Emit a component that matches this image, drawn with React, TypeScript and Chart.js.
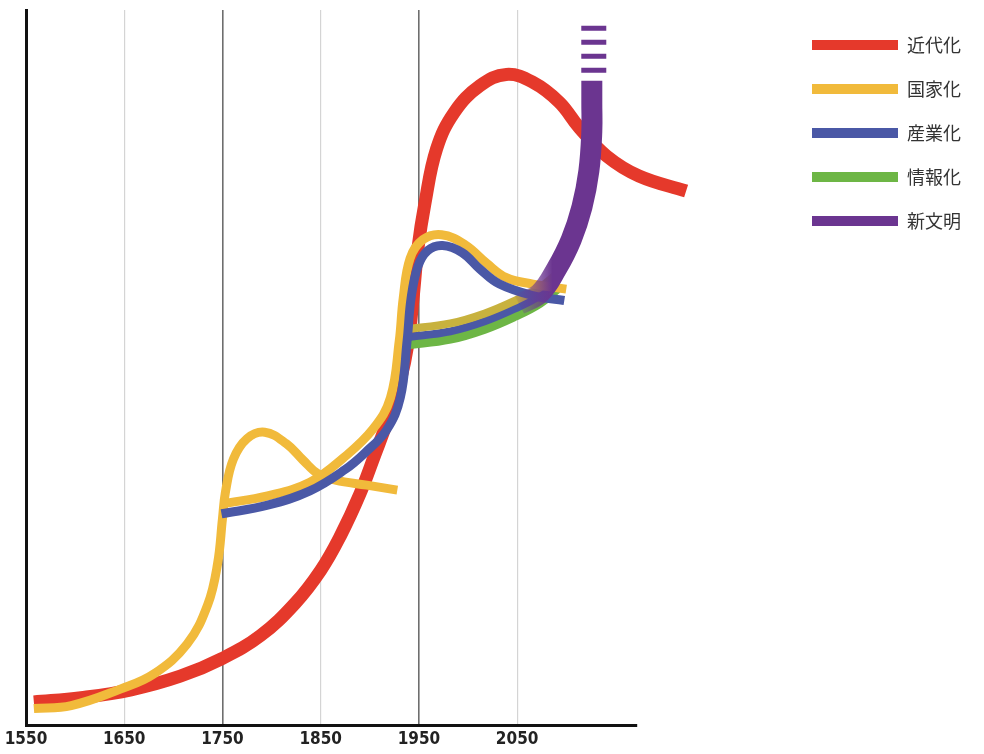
import { useEffect, useRef } from "react";
import { Chart, registerables } from "chart.js";

Chart.register(...registerables);

// ---------------- data ----------------
const seriesLabels = ["近代化", "国家化", "産業化", "情報化", "新文明"];
const xTickYears = [1550, 1650, 1750, 1850, 1950, 2050];
const xAxisStart = 1550;
const xAxisEnd = 2172;

// 近代化 (red)
const modernization: number[][] = [
  [1558, 3.3], [1606, 3.9], [1657, 5.0], [1707, 6.9], [1750, 9.4], [1789, 12.6],
  [1824, 17.1], [1850, 21.7], [1870, 26.5], [1890, 32.4], [1905, 37.8], [1918, 42.6],
  [1931, 48.2], [1939, 53.5], [1944, 59.7], [1949, 66.7], [1956, 72.9], [1968, 80.6],
  [1986, 85.7], [2012, 89.4], [2039, 91.0], [2066, 89.9], [2093, 87.1], [2113, 83.6],
  [2141, 79.6], [2174, 76.8], [2222, 74.7],
];

// 国家化 (yellow) – first wave with its bump
const nationBuildingA: number[][] = [
  [1558, 2.4], [1596, 2.8], [1646, 5.1], [1680, 7.2], [1714, 11.4], [1735, 16.9],
  [1745, 22.6], [1750, 28.9], [1753, 32.6], [1761, 37.2], [1775, 40.1], [1793, 41.0],
  [1815, 39.4], [1832, 37.1], [1848, 35.1], [1865, 34.3], [1897, 33.6], [1928, 32.9],
];
// 国家化 – second wave
const nationBuildingB: number[][] = [
  [1750, 31.0], [1796, 32.1], [1839, 34.0], [1873, 37.4], [1903, 41.4], [1921, 45.8],
  [1930, 53.8], [1934, 59.7], [1941, 65.3], [1954, 67.9], [1973, 68.6], [1997, 67.2],
  [2019, 64.6], [2039, 62.6], [2066, 61.7], [2100, 61.0],
];
// 国家化 – branch after 1950
const nationBuildingC: number[][] = [
  [1938, 55.4], [1982, 56.2], [2017, 57.6], [2048, 59.4], [2073, 61.2], [2091, 63.2],
];

// 産業化 (blue)
const industrializationA: number[][] = [
  [1749, 29.6], [1796, 30.8], [1839, 32.8], [1875, 35.8], [1895, 38.1], [1917, 41.3],
  [1931, 45.8], [1938, 53.8], [1942, 59.7], [1949, 64.2], [1959, 66.4], [1974, 67.1],
  [1994, 66.1], [2012, 63.8], [2032, 61.7], [2066, 60.1], [2098, 59.4],
];
const industrializationB: number[][] = [
  [1938, 54.3], [1982, 55.1], [2017, 56.5], [2048, 58.3], [2073, 60.1], [2091, 62.1],
];

// 情報化 (green)
const informatization: number[][] = [
  [1938, 53.2], [1982, 54.0], [2017, 55.4], [2048, 57.2], [2073, 59.0], [2091, 61.0],
];

// 新文明 (purple)
const newCivilization: number[][] = [
  [2052, 58.9], [2073, 60.4], [2090, 63.8], [2105, 67.9], [2116, 72.5], [2123, 77.5],
  [2126, 83.0], [2126, 87.0], [2126, 90.1],
];
const newCivilizationFuture: number[][] = [
  [2128, 97.8], [2128, 90.1],
];

// ---------------- styles ----------------
const RED = "#E5392B";
const YELLOW = "#F1BA3B";
const BLUE = "#4A58A6";
const GREEN = "#6DB645";
const PURPLE = "#6B3590";
const OLIVE = "#C8B23E";
const legendColors = [RED, YELLOW, BLUE, GREEN, PURPLE];
const purpleFadeFrom = 2047;
const purpleFadeTo = 2086;

const toPoints = (arr: number[][]) => arr.map(([x, y]) => ({ x, y }));

export default function App() {
  const ref = useRef<HTMLCanvasElement | null>(null);

  useEffect(() => {
    const canvas = ref.current;
    if (!canvas) return;

    const line = (data: number[][], color: any, width: number, order: number, extra: any = {}) => ({
      data: toPoints(data),
      borderColor: color,
      backgroundColor: color,
      borderWidth: width,
      order,
      pointRadius: 0,
      pointHoverRadius: 0,
      tension: 0.4,
      capBezierPoints: false,
      fill: false,
      clip: false,
      borderJoinStyle: "round",
      borderCapStyle: "butt",
      ...extra,
    });

    const purpleGradient = (c: any) => {
      const chart = c.chart;
      if (!chart.chartArea) return PURPLE;
      const xs = chart.scales.x;
      const x0 = xs.getPixelForValue(purpleFadeFrom);
      const x1 = xs.getPixelForValue(purpleFadeTo);
      const g = chart.ctx.createLinearGradient(x0, 0, x1, 0);
      g.addColorStop(0, "rgba(107,53,144,0.05)");
      g.addColorStop(0.5, "rgba(107,53,144,0.6)");
      g.addColorStop(1, "rgba(107,53,144,1)");
      return g;
    };

    const chart = new Chart(canvas, {
      type: "line",
      data: {
        datasets: [
          line(modernization, RED, 13, 7, { label: seriesLabels[0] }),
          line(nationBuildingA, YELLOW, 9, 2, { label: seriesLabels[1] }),
          line(nationBuildingB, YELLOW, 9, 2, { label: seriesLabels[1] }),
          line(nationBuildingC, OLIVE, 8, 3, { label: seriesLabels[1] }),
          line(industrializationA, BLUE, 9, 1, { label: seriesLabels[2] }),
          line(industrializationB, BLUE, 8, 4, { label: seriesLabels[2] }),
          line(informatization, GREEN, 9, 5, { label: seriesLabels[3] }),
          line(newCivilization, purpleGradient, 21, 0, { label: seriesLabels[4] }),
          line(newCivilizationFuture, PURPLE, 25, 0, {
            label: seriesLabels[4],
            tension: 0,
            borderDash: [5, 9],
          }),
        ] as any,
      },
      options: {
        animation: false,
        responsive: false,
        events: [],
        layout: { padding: { top: 10, left: 26, right: 13, bottom: 0 } },
        plugins: {
          tooltip: { enabled: false },
          legend: {
            display: true,
            position: "right",
            align: "start",
            maxWidth: 185,
            labels: {
              boxWidth: 86,
              boxHeight: 10,
              padding: 26,
              color: "#333",
              font: { family: "'Noto Sans CJK JP', 'Noto Sans', sans-serif", size: 18 },
              generateLabels: () =>
                seriesLabels.map((text, i) => ({
                  text,
                  fillStyle: legendColors[i],
                  strokeStyle: legendColors[i],
                  lineWidth: 0,
                  hidden: false,
                  fontColor: "#333",
                  datasetIndex: i,
                })),
            },
          },
        },
        scales: {
          x: {
            type: "linear",
            min: xAxisStart,
            bounds: "data",
            afterDataLimits: (s: any) => {
              s.max = xAxisEnd;
            },
            afterBuildTicks: (s: any) => {
              s.ticks = xTickYears.map((value) => ({ value }));
            },
            grid: {
              drawTicks: false,
              color: (c: any) => {
                const v = c.tick ? c.tick.value : 0;
                if (v === 1550) return "rgba(0,0,0,0)";
                return v === 1750 || v === 1950 ? "#6e6e6e" : "#d4d4d4";
              },
              lineWidth: (c: any) => {
                const v = c.tick ? c.tick.value : 0;
                return v === 1750 || v === 1950 ? 1.6 : 1.2;
              },
            },
            border: { color: "#111", width: 3 },
            ticks: {
              autoSkip: false,
              maxRotation: 0,
              padding: 4,
              color: "#222",
              font: {
                family: "'DejaVu Sans Condensed', 'Liberation Sans Narrow', sans-serif",
                weight: "bold",
                size: 17,
              },
              callback: (v: any) => String(v),
            },
          },
          y: {
            min: 0,
            max: 100,
            grid: { display: false, drawTicks: false },
            ticks: { display: false },
            border: { color: "#111", width: 3 },
          },
          y2: {
            position: "right",
            display: true,
            min: 0,
            max: 100,
            grid: { display: false, drawTicks: false },
            ticks: { display: false },
            border: { display: false },
            afterFit: (s: any) => {
              s.width = 149;
            },
          },
        },
      } as any,
    });

    return () => chart.destroy();
  }, []);

  return (
    <div style={{ position: "fixed", left: 0, top: 0, width: 984, height: 754, background: "#fff" }}>
      <canvas ref={ref} width={984} height={754} style={{ display: "block", width: 984, height: 754 }} />
    </div>
  );
}
